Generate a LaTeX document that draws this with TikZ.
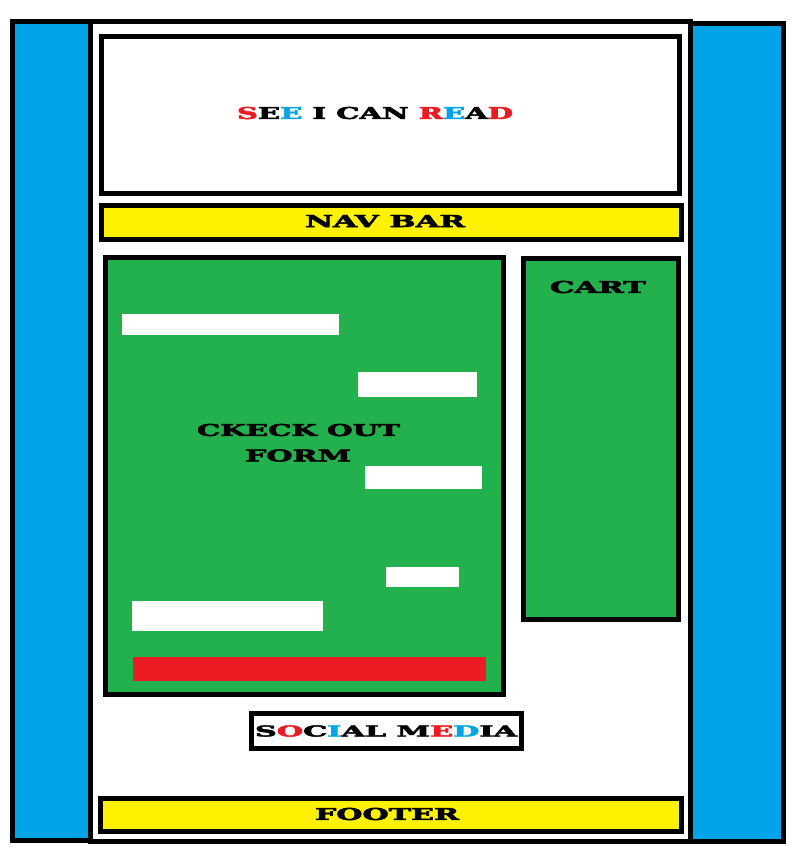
\documentclass[tikz,border=0pt]{standalone}
\usepackage{fontspec}
\setmainfont{DejaVu Serif}
\newfontfamily\heavy[UprightFont={* Bold},FakeBold=3]{DejaVu Serif}
\usepackage{graphicx}
\definecolor{pRed}{HTML}{ED1C24}
\definecolor{pBlue}{HTML}{00A2E8}
\definecolor{pGreen}{HTML}{22B14C}
\definecolor{pYellow}{HTML}{FFF200}
\newcommand{\lbl}[3]{\resizebox{#1pt}{#2pt}{\heavy #3}}
\begin{document}
\begin{tikzpicture}[x=1pt,y=-1pt,
  panel/.style={draw=black,line width=5pt},
  field/.style={fill=white},
  lbltext/.style={inner sep=0pt,anchor=center}]
\useasboundingbox[fill=white] (0,0) rectangle (809,863);
% side panels
\path[panel,fill=pBlue] (12.5,21.5) rectangle (90.5,840.5);
\path[panel,fill=pBlue] (690.5,23) rectangle (783.5,841.5);
% main frame
\path[panel,fill=white] (90.5,21.5) rectangle (690.5,841.5);
% header
\path[panel,fill=white] (101.5,36.5) rectangle (679,193.5);
% nav bar
\path[panel,fill=pYellow] (101.5,205.5) rectangle (681.5,239.5);
% checkout form
\path[panel,fill=pGreen] (105.5,257.5) rectangle (503.5,694.5);
\path[field] (122,314) rectangle (339,335);
\path[field] (358,372) rectangle (477,397);
\path[field] (365,466) rectangle (482,489);
\path[field] (386,567) rectangle (459,587);
\path[field] (132,601) rectangle (323,631);
\path[fill=pRed] (133,657) rectangle (486,681);
% cart
\path[panel,fill=pGreen] (523.5,258.5) rectangle (678.5,619.5);
% social media
\path[panel,fill=white] (251.5,713.5) rectangle (521,748.5);
% footer
\path[panel,fill=pYellow] (100.5,798.5) rectangle (681.5,831.5);
% labels
\node[lbltext] (title) at (375,113) {\lbl{276}{12}{\textcolor{pRed}{S}E\textcolor{pBlue}{E} I CAN \textcolor{pRed}{R}\textcolor{pBlue}{E}A\textcolor{pRed}{D}}};
\node[lbltext] (nav) at (385,221) {\lbl{160}{12}{NAV BAR}};
\node[lbltext] (cart) at (598,287) {\lbl{96}{12}{CART}};
\node[lbltext] (form1) at (298.5,430) {\lbl{203}{12}{CKECK OUT}};
\node[lbltext] (form2) at (298,455.5) {\lbl{106}{12}{FORM}};
\node[lbltext] (social) at (386,731) {\lbl{262}{11}{S\textcolor{pRed}{O}C\textcolor{pBlue}{I}AL M\textcolor{pRed}{E}\textcolor{pBlue}{D}IA}};
\node[lbltext] (footer) at (387,814) {\lbl{144}{12}{FOOTER}};
\end{tikzpicture}
\end{document}
